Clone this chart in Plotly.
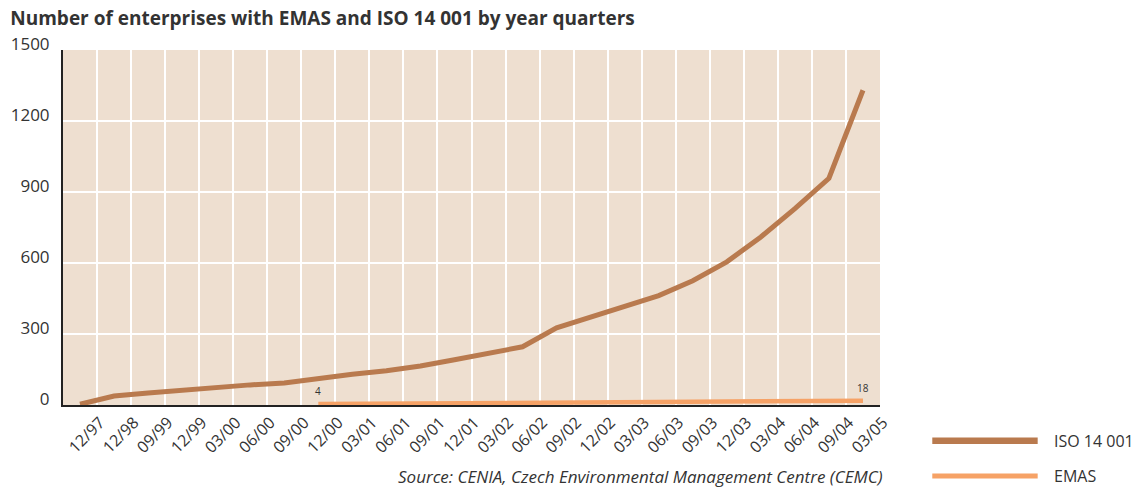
import plotly.graph_objects as go

quarters = ["12/97", "12/98", "09/99", "12/99", "03/00", "06/00", "09/00", "12/00",
            "03/01", "06/01", "09/01", "12/01", "03/02", "06/02", "09/02", "12/02",
            "03/03", "06/03", "09/03", "12/03", "03/04", "06/04", "09/04", "03/05"]

iso_14001 = [3, 38, 51, 63, 72, 85, 93, 114, 130, 145, 165, 191, 220, 246,
             326, 370, 415, 462, 525, 605, 710, 830, 958, 1330]

emas_quarters = quarters[7:]
emas = [4, 5, 5, 6, 7, 7, 8, 8, 9, 9, 10, 11, 12, 13, 15, 16, 18]

ISO_COLOR = "#B97A4E"
EMAS_COLOR = "#F6A266"
FONT = "Open Sans"
TEXT = "#333333"

fig = go.Figure()
fig.add_trace(go.Scatter(x=quarters, y=iso_14001, mode="lines", name="ISO 14 001",
                         line=dict(color=ISO_COLOR, width=5), cliponaxis=False))
fig.add_trace(go.Scatter(x=emas_quarters, y=emas, mode="lines", name="EMAS",
                         line=dict(color=EMAS_COLOR, width=4.5), cliponaxis=False))

# first and last EMAS values written above the line
for i in (0, -1):
    fig.add_annotation(x=emas_quarters[i], y=emas[i], text=str(emas[i]), showarrow=False,
                       yshift=13, font=dict(size=10, color=TEXT, family=FONT))

# legend drawn by hand: long line keys at the bottom right
for y, name, color, w in [(-0.101, "ISO 14 001", ISO_COLOR, 6.5), (-0.200, "EMAS", EMAS_COLOR, 5)]:
    fig.add_shape(type="line", xref="paper", yref="paper", x0=1.064, x1=1.193, y0=y, y1=y,
                  line=dict(color=color, width=w))
    fig.add_annotation(xref="paper", yref="paper", x=1.21, y=y, text=name, showarrow=False,
                       xanchor="left", yanchor="middle", font=dict(size=16, color=TEXT, family=FONT))

fig.add_annotation(xref="paper", yref="paper", x=1.006, y=-0.2, xanchor="right", yanchor="middle",
                   text="<i>Source: CENIA, Czech Environmental Management Centre (CEMC)</i>",
                   showarrow=False, font=dict(size=17, color=TEXT, family=FONT))

fig.update_layout(
    width=1141, height=490,
    margin=dict(l=63, r=261, t=50, b=85),
    paper_bgcolor="white", plot_bgcolor="#EEDFD0",
    showlegend=False,
    font=dict(family=FONT, color=TEXT),
    title=dict(text="<b>Number of enterprises with EMAS and ISO 14 001 by year quarters</b>",
               x=0.009, xanchor="left", y=0.963, yanchor="middle",
               font=dict(size=19, color=TEXT, family=FONT)),
)
fig.update_xaxes(type="category", tickson="boundaries", showgrid=True, gridcolor="white", gridwidth=2,
                 tickangle=-45, ticklabelshift=20, ticks="", tickfont=dict(size=16, color=TEXT),
                 showline=True, linecolor="#222222", linewidth=2, zeroline=False,
                 range=[-0.5, 23.5])
fig.update_yaxes(range=[0, 1500], tickvals=[0, 300, 600, 900, 1200, 1500], showgrid=True,
                 gridcolor="white", gridwidth=2, showline=True, linecolor="#222222", linewidth=2,
                 zeroline=False, ticks="", ticklabelstandoff=8, ticklabelshift=-6,
                 tickfont=dict(size=17, color=TEXT))

fig.write_html("out.html", config={"displayModeBar": False},
               post_script="document.body.style.margin = '0';")
